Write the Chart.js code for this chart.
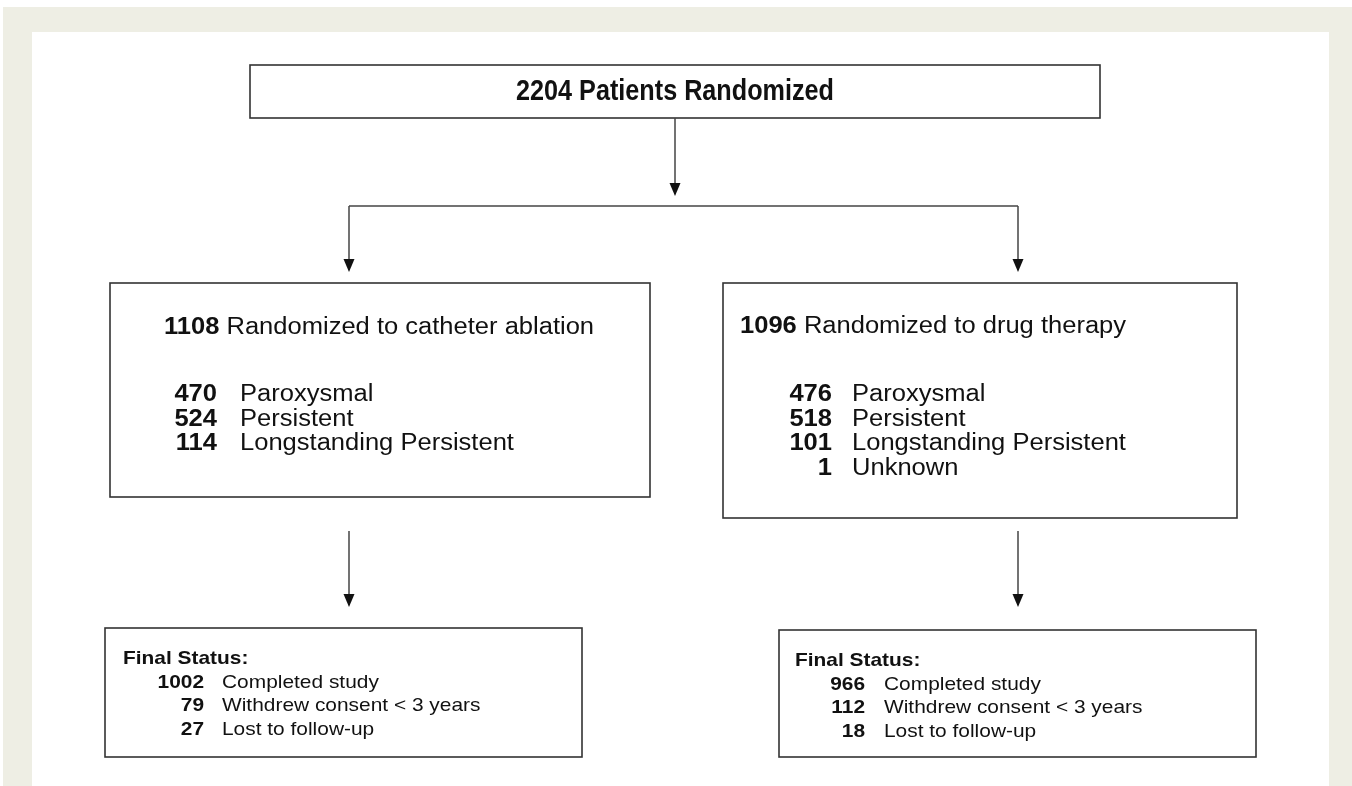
<!DOCTYPE html>
<html>
<head>
<meta charset="utf-8">
<script src="https://cdn.jsdelivr.net/npm/chart.js@4/dist/chart.umd.min.js"></script>
<style>
  html, body { margin: 0; padding: 0; background: #fff; }
  canvas { display: block; }
</style>
</head>
<body>
<canvas id="flow" width="1352" height="786"></canvas>
<script>
// study numbers
var totalCount = 2204;
var totalLabel = "Patients Randomized";
var armCounts = [1108, 1096];
var armLabels = ["Randomized to catheter ablation", "Randomized to drug therapy"];
var afTypes = ["Paroxysmal", "Persistent", "Longstanding Persistent", "Unknown"];
var ablationAF = [470, 524, 114, null];
var drugAF = [476, 518, 101, 1];
var statusTitle = "Final Status:";
var statusLabels = ["Completed study", "Withdrew consent < 3 years", "Lost to follow-up"];
var ablationStatus = [1002, 79, 27];
var drugStatus = [966, 112, 18];

// layout (in axis units, same as page pixels)
var topBox = {x1: 250, y1: 65, x2: 1100, y2: 118};
var armBoxes = [
    {x1: 110, y1: 283, x2: 650, y2: 497, titleX: 164, titleY: 328, numX: 217, labX: 240},
    {x1: 723, y1: 283, x2: 1237, y2: 518, titleX: 740, titleY: 327, numX: 832, labX: 852}
];
var statusBoxes = [
    {x1: 105, y1: 628, x2: 582, y2: 757, titleX: 123, titleY: 659, numX: 204, labX: 222},
    {x1: 779, y1: 630, x2: 1256, y2: 757, titleX: 795, titleY: 661, numX: 865, labX: 884}
];
var armRowY = 395, armRowStep = 24.5;
var statusRowStep = 23.5;
var splitY = 206;
var armX = [349, 1018];

var FONT = "'Liberation Sans', Arial, sans-serif";

var flowPlugin = {
    id: "flow",
    beforeDraw: function(chart) {
        var ctx = chart.ctx;
        ctx.save();
        ctx.fillStyle = "#ffffff";
        ctx.fillRect(0, 0, chart.width, chart.height);
        ctx.fillStyle = "#eeeee4";
        ctx.fillRect(3, 7, chart.width - 3, chart.height - 7);
        ctx.fillStyle = "#ffffff";
        ctx.fillRect(32, 32, 1329 - 32, chart.height - 32);
        ctx.restore();
    },
    afterDraw: function(chart) {
        var ctx = chart.ctx;
        var xs = chart.scales.x, ys = chart.scales.y;
        var px = function(v) { return xs.getPixelForValue(v); };
        var py = function(v) { return ys.getPixelForValue(v); };

        function box(b) {
            ctx.save();
            ctx.strokeStyle = "#333";
            ctx.lineWidth = 1.6;
            ctx.strokeRect(px(b.x1), py(b.y1), px(b.x2) - px(b.x1), py(b.y2) - py(b.y1));
            ctx.restore();
        }
        function line(x1, y1, x2, y2) {
            ctx.save();
            ctx.strokeStyle = "#444";
            ctx.lineWidth = 1.5;
            ctx.beginPath();
            ctx.moveTo(px(x1), py(y1));
            ctx.lineTo(px(x2), py(y2));
            ctx.stroke();
            ctx.restore();
        }
        // vertical arrow ending with its tip at y2
        function arrow(x, y1, y2) {
            line(x, y1, x, y2 - 12);
            ctx.save();
            ctx.fillStyle = "#111";
            ctx.beginPath();
            ctx.moveTo(px(x) - 5.5, py(y2) - 13);
            ctx.lineTo(px(x) + 5.5, py(y2) - 13);
            ctx.lineTo(px(x), py(y2));
            ctx.closePath();
            ctx.fill();
            ctx.restore();
        }
        // text with horizontal stretch, returns drawn width
        function text(str, x, y, font, align, sx) {
            ctx.save();
            ctx.font = font;
            ctx.fillStyle = "#111";
            ctx.textBaseline = "middle";
            ctx.textAlign = align;
            ctx.translate(px(x), py(y));
            ctx.scale(sx, 1);
            ctx.fillText(str, 0, 0);
            var w = ctx.measureText(str).width * sx;
            ctx.restore();
            return w;
        }

        // top box
        box(topBox);
        var midX = (topBox.x1 + topBox.x2) / 2;
        text(totalCount + " " + totalLabel, midX, 92, "bold 30px " + FONT, "center", 0.84);

        // connectors
        arrow(midX, topBox.y2, 196);
        line(armX[0], splitY, armX[1], splitY);
        arrow(armX[0], splitY, 272);
        arrow(armX[1], splitY, 272);

        // arm boxes
        var afSets = [ablationAF, drugAF];
        armBoxes.forEach(function(b, i) {
            box(b);
            var w = text(String(armCounts[i]), b.titleX, b.titleY, "bold 23px " + FONT, "left", 1.11);
            text(" " + armLabels[i], b.titleX + w, b.titleY, "23px " + FONT, "left", 1.11);
            var row = 0;
            afSets[i].forEach(function(n, k) {
                if (n === null) return;
                var y = armRowY + row * armRowStep;
                text(String(n), b.numX, y, "bold 23px " + FONT, "right", 1.11);
                text(afTypes[k], b.labX, y, "23px " + FONT, "left", 1.11);
                row++;
            });
        });

        // arrows to final status
        arrow(armX[0], 531, 607);
        arrow(armX[1], 531, 607);

        // final status boxes
        var stSets = [ablationStatus, drugStatus];
        statusBoxes.forEach(function(b, i) {
            box(b);
            text(statusTitle, b.titleX, b.titleY, "bold 19px " + FONT, "left", 1.1);
            stSets[i].forEach(function(n, k) {
                var y = b.titleY + (k + 1) * statusRowStep;
                text(String(n), b.numX, y, "bold 19px " + FONT, "right", 1.1);
                text(statusLabels[k], b.labX, y, "19px " + FONT, "left", 1.1);
            });
        });
    }
};

new Chart(document.getElementById("flow"), {
    type: "scatter",
    data: {datasets: [{data: [], pointRadius: 0}]},
    options: {
        responsive: false,
        animation: false,
        layout: {padding: 0},
        scales: {
            x: {type: "linear", min: 0, max: 1352, display: false},
            y: {type: "linear", min: 0, max: 786, reverse: true, display: false}
        },
        plugins: {legend: {display: false}, tooltip: {enabled: false}}
    },
    plugins: [flowPlugin]
});
</script>
</body>
</html>
